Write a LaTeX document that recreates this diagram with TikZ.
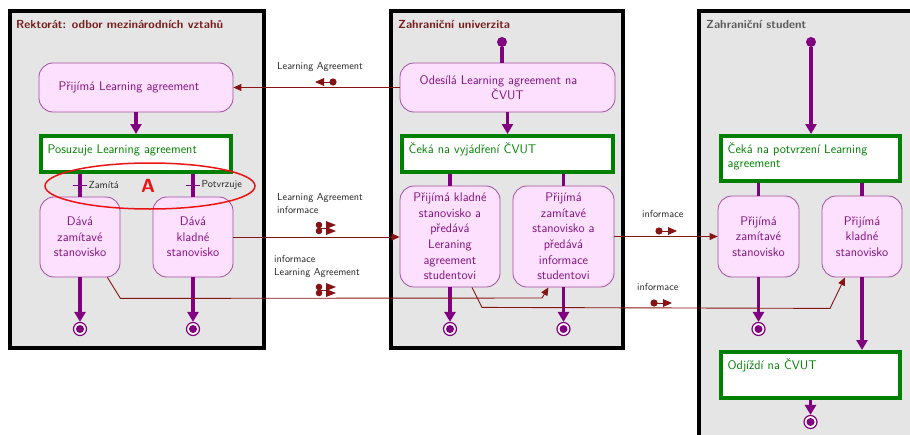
\documentclass[tikz,border=0pt]{standalone}
\usetikzlibrary{arrows.meta,calc}

\definecolor{panelgray}{RGB}{229,229,229}
\definecolor{pinkfill}{RGB}{253,224,253}
\definecolor{pinkedge}{RGB}{160,80,160}
\definecolor{umlpurple}{RGB}{128,0,128}
\definecolor{statetext}{RGB}{128,16,128}
\definecolor{flowgreen}{RGB}{0,128,0}
\definecolor{msgred}{RGB}{135,20,20}
\definecolor{titlered}{RGB}{120,30,30}
\definecolor{titlegray}{RGB}{90,90,90}
\definecolor{markred}{RGB}{235,20,20}

\tikzset{
  panel/.style={draw=black, line width=4pt, fill=panelgray},
  lanetitle/.style={anchor=base west, inner sep=0pt,
    font=\sffamily\bfseries\fontsize{11.7}{13}\selectfont},
  action/.style={draw=pinkedge, fill=pinkfill, line width=0.8pt,
    rounded corners=14pt, text=statetext, align=center, inner sep=2pt,
    font=\sffamily\fontsize{12.5}{15.6}\selectfont},
  waitbox/.style={draw=flowgreen, fill=white, line width=4pt, inner sep=0pt},
  waittext/.style={anchor=base west, inner sep=0pt, xshift=8.5pt, yshift=-19pt,
    text width=175pt, align=left, text=flowgreen,
    font=\sffamily\fontsize{12.5}{14.5}\selectfont},
  flow/.style={draw=umlpurple, line width=3.5pt},
  flowarrow/.style={flow, -{Triangle[width=11pt,length=10pt]}},
  msg/.style={draw=msgred, line width=0.9pt},
  msgarrow/.style={msg, -{Triangle[width=7pt,length=8pt]}},
  msglabel/.style={anchor=base west, inner sep=0pt, text width=110pt,
    align=left, text=black!85, font=\sffamily\fontsize{10.2}{13.2}\selectfont},
  guardtick/.style={draw=umlpurple, line width=1.2pt},
  guardlabel/.style={anchor=west, inner sep=1pt, text=black!85,
    font=\sffamily\fontsize{10.2}{12}\selectfont},
  initstate/.style={circle, fill=umlpurple, minimum size=10pt, inner sep=0pt},
  finalstate/.style={circle, draw=umlpurple, fill=white, line width=1.2pt,
    minimum size=13pt, inner sep=0pt,
    path picture={\fill[umlpurple] (path picture bounding box.center) circle (4pt);}},
  objright/.pic={
    \draw[msgred, line width=1pt] (0,0) -- (10,0);
    \fill[msgred] (0,0) circle (3.6pt);
    \fill[msgred] (9,-4) -- (18,0) -- (9,4) -- cycle;},
  objleft/.pic={
    \draw[msgred, line width=1pt] (0,0) -- (-10,0);
    \fill[msgred] (0,0) circle (3.6pt);
    \fill[msgred] (-9,-4) -- (-18,0) -- (-9,4) -- cycle;},
  objpair/.pic={
    \draw[msgred, line width=1pt] (0,0) -- (9,0);
    \fill[msgred] (0,-3) circle (3.3pt);
    \fill[msgred] (0,3) circle (3.3pt);
    \fill[msgred] (7,-7) -- (17,-3) -- (7,1) -- cycle;
    \fill[msgred] (7,-1) -- (17,3) -- (7,7) -- cycle;},
}

\begin{document}
\begin{tikzpicture}[x=1pt,y=-1pt]
\useasboundingbox (0,0) rectangle (910,434);
\clip (0,0) rectangle (910,434);

% swimlanes
\path[panel] (10,11) rectangle (263.5,347.5);
\path[panel] (391,11) rectangle (622.5,347.5);
\path[panel] (699,11) rectangle (940,460);

\node[lanetitle, text=titlered] (lane1) at (16,28.5) {Rektorát: odbor mezinárodních vztahů};
\node[lanetitle, text=titlered] (lane2) at (398,28.5) {Zahraniční univerzita};
\node[lanetitle, text=titlegray] (lane3) at (706,28.5) {Zahraniční student};

% --- Rektorát ---
\node[action, minimum width=194pt, minimum height=49pt] (prijima) at (136,87.5) {Přijímá Learning agreement\hspace*{14pt}};
\node[waitbox, minimum width=190pt, minimum height=36pt,
  label={[waittext]north west:Posuzuje Learning agreement}] (posuzuje) at (136,154) {};
\node[action, minimum width=80pt, minimum height=80pt] (davazamit) at (80,237) {Dává\\zamítavé\\stanovisko};
\node[action, minimum width=80pt, minimum height=80pt] (davaklad) at (193,237) {Dává\\kladné\\stanovisko};
\node[finalstate] (end1) at (80,329) {};
\node[finalstate] (end2) at (193,329) {};

\draw[flowarrow] (prijima) -- (posuzuje);
\draw[flow] (posuzuje.south -| davazamit.north) -- coordinate (g1) (davazamit.north);
\draw[flow] (posuzuje.south -| davaklad.north) -- coordinate (g2) (davaklad.north);
\draw[guardtick] ([xshift=-7pt]g1) -- ([xshift=7pt]g1) node[guardlabel] (zamita) {Zamítá};
\draw[guardtick] ([xshift=-7pt]g2) -- ([xshift=7pt]g2) node[guardlabel] (potvrzuje) {Potvrzuje};
\draw[flowarrow] (davazamit) -- (end1);
\draw[flowarrow] (davaklad) -- (end2);

\draw[markred, line width=1.5pt] (150,186) ellipse [x radius=105pt, y radius=23pt];
\node[text=markred, font=\sffamily\bfseries\fontsize{19}{20}\selectfont] (markA) at (148,186) {A};

% --- Zahraniční univerzita ---
\node[initstate] (start2) at (502,42) {};
\node[action, minimum width=215pt, minimum height=49pt] (odesila) at (507.5,87.5) {Odesílá Learning agreement na\hspace*{18pt}\\ČVUT};
\node[waitbox, minimum width=211pt, minimum height=36pt,
  label={[waittext]north west:Čeká na vyjádření ČVUT}] (ceka2) at (507.5,154) {};
\node[action, minimum width=100pt, minimum height=101pt] (klad2) at (450,236.5)
  {Přijímá kladné\\stanovisko a\\předává\\Leraning\\agreement\\studentovi};
\node[action, minimum width=101pt, minimum height=101pt] (zamit2) at (563.5,236.5)
  {Přijímá\\zamítavé\\stanovisko a\\předává\\informace\\studentovi};
\node[finalstate] (end3) at (450,329) {};
\node[finalstate] (end4) at (563.5,329) {};

\draw[flow] (start2) -- (start2 |- odesila.north);
\draw[flowarrow] (odesila) -- (ceka2);
\draw[flow] (ceka2.south -| klad2.north) -- (klad2.north);
\draw[flow] (ceka2.south -| zamit2.north) -- (zamit2.north);
\draw[flowarrow] (klad2) -- (end3);
\draw[flowarrow] (zamit2) -- (end4);

% --- Zahraniční student ---
\node[initstate] (start3) at (811,42) {};
\node[waitbox, minimum width=179pt, minimum height=45pt,
  label={[waittext]north west:Čeká na potvrzení Learning\\agreement}] (ceka3) at (810.5,158.5) {};
\node[action, minimum width=81pt, minimum height=81pt] (zamit3) at (758.5,236.5) {Přijímá\\zamítavé\\stanovisko};
\node[action, minimum width=80pt, minimum height=81pt] (klad3) at (862,236.5) {Přijímá\\kladné\\stanovisko};
\node[waitbox, minimum width=179pt, minimum height=46pt,
  label={[waittext]north west:Odjíždí na ČVUT}] (odjizdi) at (810.5,375) {};
\node[finalstate] (end5) at (758.5,329) {};
\node[finalstate] (end6) at (810.5,422) {};

\draw[flowarrow] (start3) -- (start3 |- ceka3.north);
\draw[flow] (ceka3.south -| zamit3.north) -- (zamit3.north);
\draw[flow] (ceka3.south -| klad3.north) -- (klad3.north);
\draw[flowarrow] (zamit3) -- (end5);
\draw[flowarrow] (klad3.south) -- (klad3.south |- odjizdi.north);
\draw[flowarrow] (odjizdi) -- (end6);

% --- object flows between lanes ---
\draw[msgarrow] (odesila) -- (prijima);
\draw[msgarrow] (davaklad.east) -- (davaklad.east -| klad2.west);
\draw[msgarrow] ([xshift=-13pt]davazamit.south east) -- ++(13,21)
  -- ($(zamit2.south)+(-21.5,10.6)$) -- ([xshift=-15pt]zamit2.south);
\draw[msgarrow] (zamit2.east) -- (zamit2.east -| zamit3.west);
\draw[msgarrow] ([xshift=22pt]klad2.south) -- ++(10,20)
  -- ($(klad3.south)+(-32,31)$) -- ([xshift=-17pt]klad3.south);

\node[msglabel] (m1) at (277,69) {Learning Agreement};
\pic at (333,82) {objleft};
\node[msglabel] (m2) at (277,200.5) {Learning Agreement\\informace};
\pic at (319,228) {objpair};
\node[msglabel] (m3) at (274,262) {informace\\Learning Agreement};
\pic at (319,290) {objpair};
\node[msglabel] (m4) at (642,217) {informace};
\pic at (659,231) {objright};
\node[msglabel] (m5) at (637,290) {informace};
\pic at (654,303) {objright};
\end{tikzpicture}
\end{document}
